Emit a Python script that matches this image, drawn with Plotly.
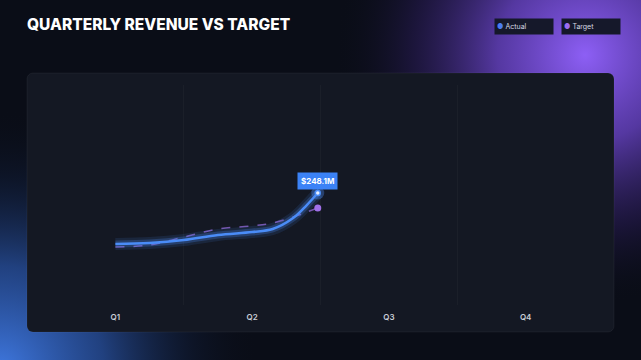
import base64
import plotly.graph_objects as go

# ---- data ----
quarters = ["Q1", "Q2", "Q3", "Q4"]
quarter_pos = [0, 1, 2, 3]
period = [0, 0.25, 0.5, 0.75, 1.0, 1.15, 1.3, 1.4, 1.48]
actual = [180.7, 182.0, 185.9, 192.6, 196.5, 200.5, 215.0, 232.2, 248.1]
target = [176.7, 179.3, 189.9, 200.5, 204.5, 208.4, 216.4, 223.0, 228.3]

W, H = 641, 360
ML, MR, MT, MB = 47, 47, 85, 55
PW, PH = W - ML - MR, H - MT - MB

BLUE = "#4a8cf7"
PURPLE = "#a070e8"

svg = f"""<svg xmlns='http://www.w3.org/2000/svg' width='{W}' height='{H}' viewBox='0 0 {W} {H}'>
<defs>
<radialGradient id='p' cx='585' cy='55' r='250' gradientUnits='userSpaceOnUse'>
<stop offset='0' stop-color='#8d5ff5' stop-opacity='1'/>
<stop offset='0.35' stop-color='#6a44c8' stop-opacity='0.78'/>
<stop offset='0.7' stop-color='#35216e' stop-opacity='0.38'/>
<stop offset='1' stop-color='#0a0e18' stop-opacity='0'/>
</radialGradient>
<radialGradient id='b' cx='0' cy='370' r='260' gradientUnits='userSpaceOnUse'>
<stop offset='0' stop-color='#3f78e0' stop-opacity='1'/>
<stop offset='0.4' stop-color='#2a55a8' stop-opacity='0.72'/>
<stop offset='0.75' stop-color='#14264c' stop-opacity='0.3'/>
<stop offset='1' stop-color='#0a0e18' stop-opacity='0'/>
</radialGradient>
</defs>
<rect width='{W}' height='{H}' fill='#0a0d17'/>
<rect width='{W}' height='{H}' fill='url(#p)'/>
<rect width='{W}' height='{H}' fill='url(#b)'/>
<rect x='27' y='73' width='587' height='259' rx='6' ry='6' fill='#141823' stroke='rgba(255,255,255,0.05)' stroke-width='1'/>
</svg>"""
src = "data:image/svg+xml;base64," + base64.b64encode(svg.encode()).decode()

y_lo = 100
y_hi = 390.9

fig = go.Figure()

# target dashed
fig.add_trace(go.Scatter(x=period, y=target, mode="lines",
                         line=dict(color="rgba(160,112,232,0.7)", width=1.5, dash="dash", shape="spline", smoothing=1),
                         hoverinfo="skip", showlegend=False))
fig.add_trace(go.Scatter(x=[period[-1]], y=[target[-1]], mode="markers",
                         marker=dict(color=PURPLE, size=7), hoverinfo="skip", showlegend=False))

# actual glow layers
for w, a in [(12, 0.12), (7, 0.25)]:
    fig.add_trace(go.Scatter(x=period, y=actual, mode="lines",
                             line=dict(color=f"rgba(74,140,247,{a})", width=w, shape="spline", smoothing=1),
                             hoverinfo="skip", showlegend=False))
fig.add_trace(go.Scatter(x=period, y=actual, mode="lines",
                         line=dict(color=BLUE, width=2.5, shape="spline", smoothing=1),
                         hoverinfo="skip", showlegend=False))
fig.add_trace(go.Scatter(x=[period[-1]], y=[actual[-1]], mode="markers",
                         marker=dict(color="rgba(74,140,247,0.35)", size=13), hoverinfo="skip", showlegend=False))
fig.add_trace(go.Scatter(x=[period[-1]], y=[actual[-1]], mode="markers",
                         marker=dict(color="#e8f0ff", size=5, line=dict(color=BLUE, width=1.5)),
                         hoverinfo="skip", showlegend=False))

def px_x(px):
    return (px - ML) / PW

def px_y(py):
    return (H - MB - py) / PH

annotations = [
    dict(x=period[-1], y=actual[-1], xref="x", yref="y", text=f"<b>${actual[-1]:.1f}M</b>",
         showarrow=True, arrowhead=0, arrowcolor="#3b82f6", arrowwidth=1, ax=0, ay=-12,
         standoff=3, bgcolor="#3b82f6", borderpad=3,
         font=dict(family="Inter", size=8, color="white")),
    dict(x=px_x(523.5), y=px_y(27), xref="paper", yref="paper", showarrow=False,
         text="<span style='color:#4a7cf0'>●</span> Actual", align="left", width=54, height=11,
         bgcolor="#15182a", borderpad=2, xanchor="center", yanchor="middle",
         font=dict(family="Inter", size=7, color="#d6d9e3")),
    dict(x=px_x(590.5), y=px_y(27), xref="paper", yref="paper", showarrow=False,
         text="<span style='color:#9b6cf0'>●</span> Target", align="left", width=54, height=11,
         bgcolor="#15182a", borderpad=2, xanchor="center", yanchor="middle",
         font=dict(family="Inter", size=7, color="#d6d9e3")),
]

fig.update_layout(
    width=W, height=H,
    margin=dict(l=ML, r=MR, t=MT, b=MB, pad=0),
    paper_bgcolor="#0a0d17",
    plot_bgcolor="rgba(0,0,0,0)",
    title=dict(text="QUARTERLY REVENUE VS TARGET", x=27 / W, xanchor="left", xref="container",
               y=1 - 25 / H, yanchor="middle", yref="container",
               font=dict(family="Inter", size=15.5, color="white", weight=800)),
    images=[dict(source=src, xref="paper", yref="paper", x=-ML / PW, y=1 + MT / PH,
                 sizex=W / PW, sizey=H / PH, xanchor="left", yanchor="top",
                 sizing="stretch", layer="below")],
    xaxis=dict(range=[-0.5, 3.5], tickvals=quarter_pos, ticktext=quarters, showgrid=False,
               zeroline=False, showline=False, ticks="", ticklabelstandoff=6,
               tickfont=dict(family="Inter", size=8, color="#c9cdd6", weight=600),
               minor=dict(tickvals=[0.5, 1.5, 2.5], showgrid=True, gridcolor="rgba(255,255,255,0.03)", gridwidth=1, ticks="")),
    yaxis=dict(range=[y_lo, y_hi], tickvals=[y_hi], showticklabels=False, showgrid=True,
               gridcolor="rgba(255,255,255,0.035)", zeroline=False, showline=False),
    annotations=annotations,
    showlegend=False,
    hovermode=False,
)

fig.write_html("out.html")
